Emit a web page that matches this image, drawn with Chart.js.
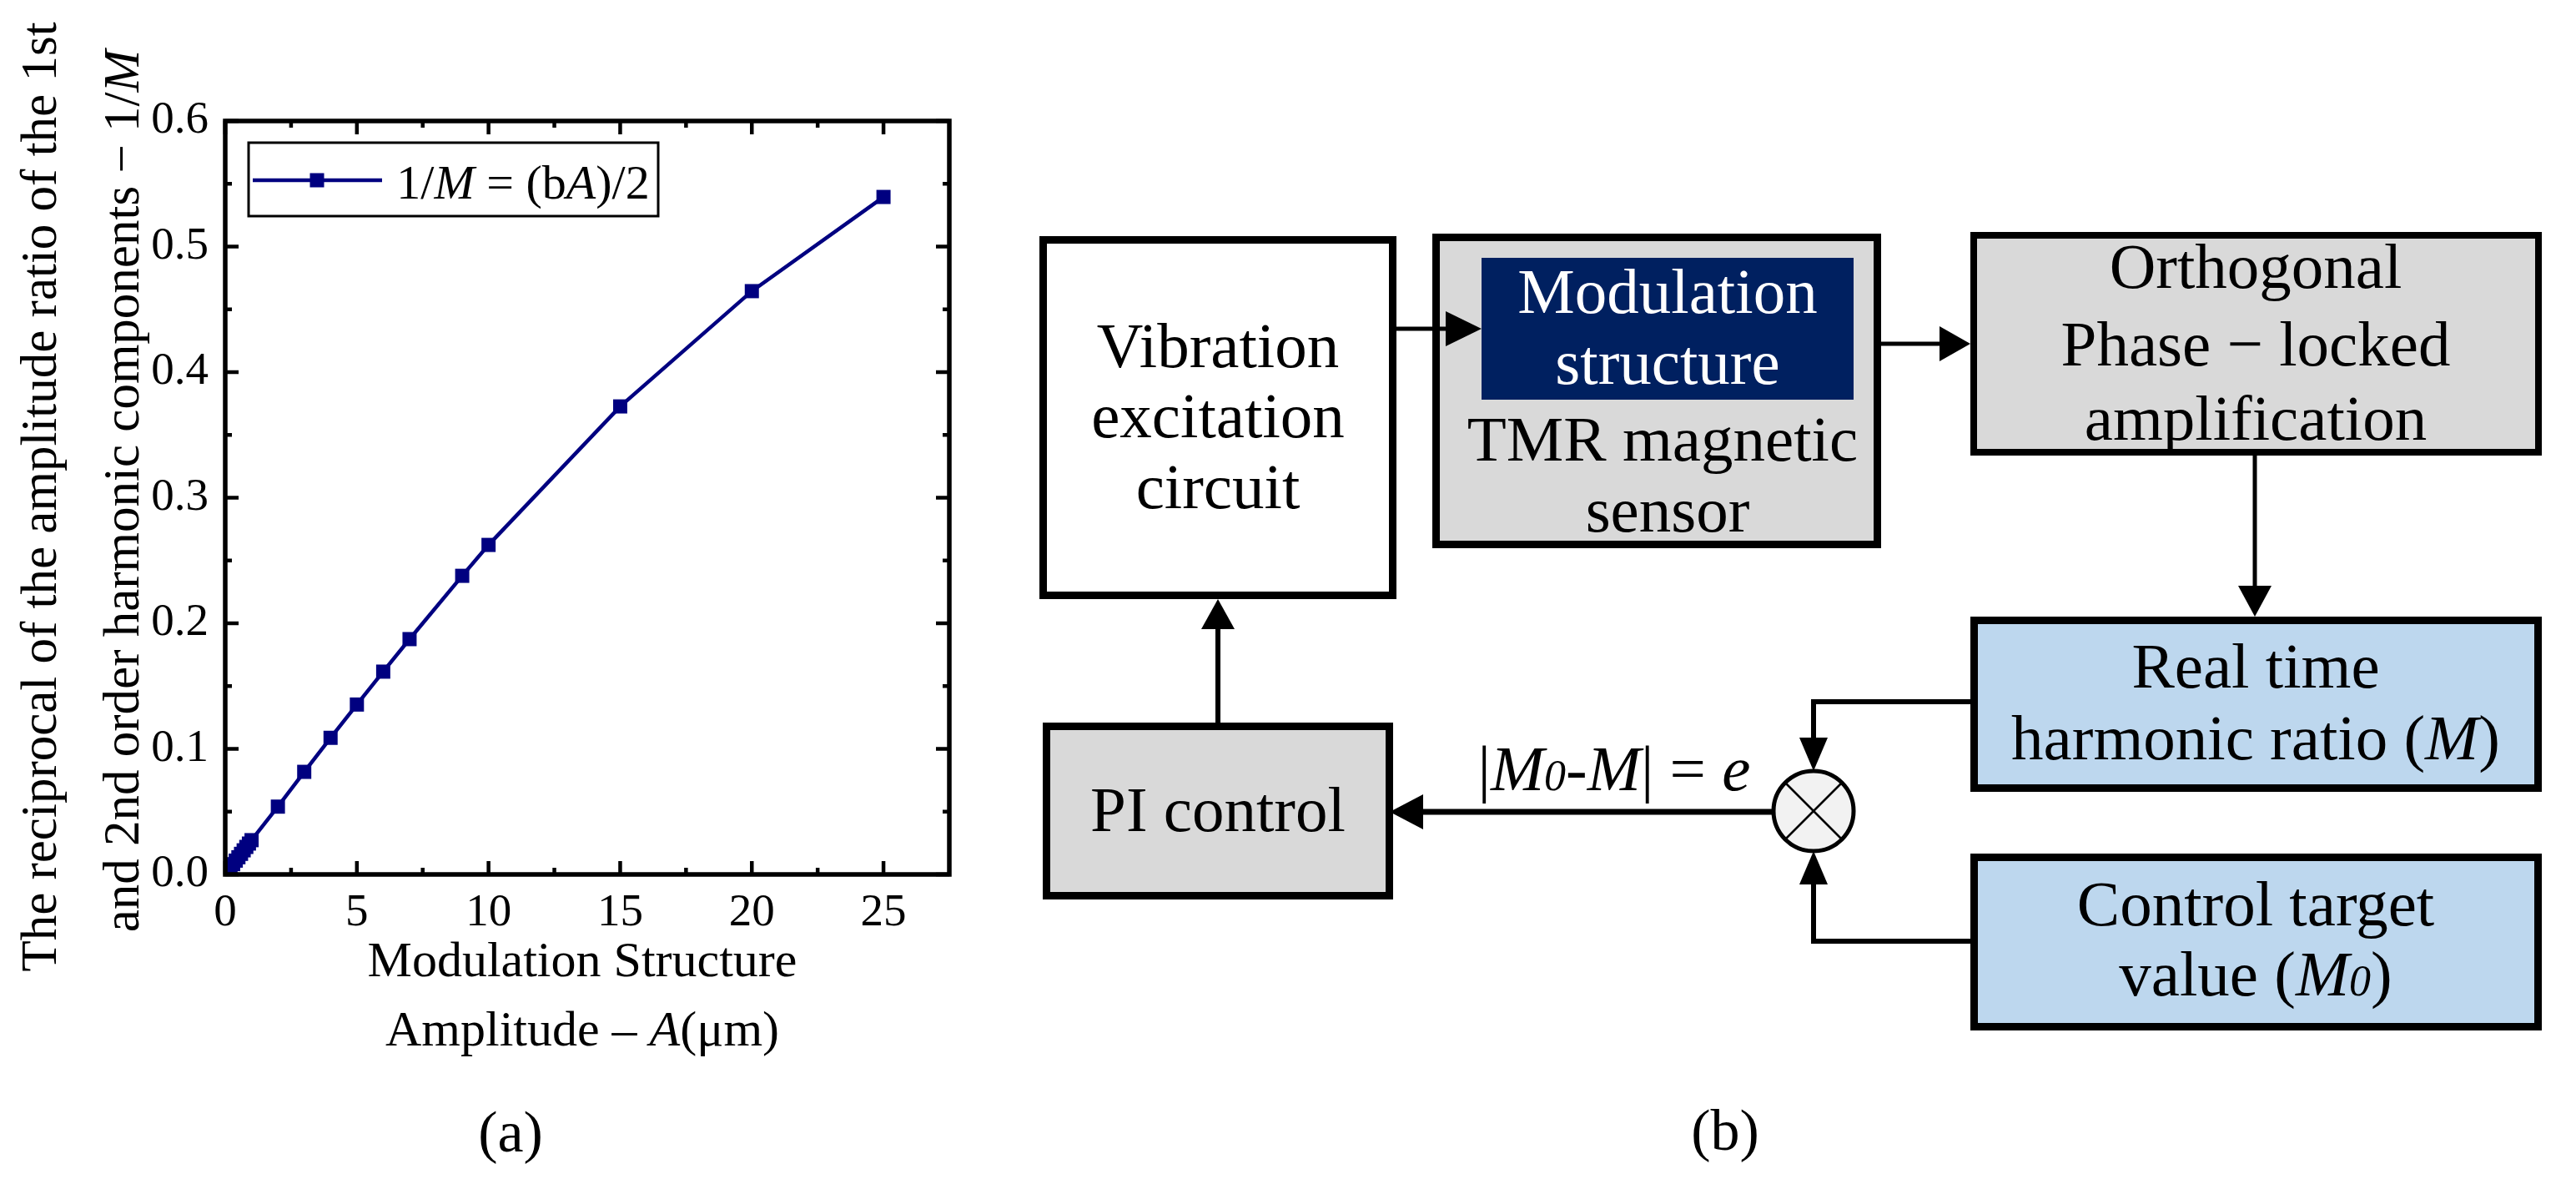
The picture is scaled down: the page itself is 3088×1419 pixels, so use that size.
<!DOCTYPE html>
<html>
<head>
<meta charset="utf-8">
<script src="https://cdn.jsdelivr.net/npm/chart.js@4.4.1/dist/chart.umd.min.js"></script>
<style>
  html, body { margin: 0; padding: 0; background: #fff; }
  body { width: 3088px; height: 1419px; position: relative; overflow: hidden; }
  #chart-wrap { position: absolute; left: 0; top: 0; width: 1200px; height: 1419px; }
  #diagram { position: absolute; left: 0; top: 0; }
  #diagram text { font-family: 'Liberation Serif', 'Times New Roman', serif; }
</style>
</head>
<body>
<div id="chart-wrap"><canvas id="ratio-chart"></canvas></div>

<svg id="diagram" width="3088" height="1419" viewBox="0 0 3088 1419">
  <!-- boxes -->
  <rect x="1250.5" y="287.5" width="419" height="426" fill="#fff" stroke="#000" stroke-width="9"/>
  <rect x="1721.5" y="284.5" width="529" height="368" fill="#d9d9d9" stroke="#000" stroke-width="9"/>
  <rect x="1776" y="309" width="446" height="170" fill="#002060"/>
  <rect x="2366" y="282" width="677" height="260" fill="#d9d9d9" stroke="#000" stroke-width="8"/>
  <rect x="1254.5" y="870.5" width="411" height="203" fill="#d9d9d9" stroke="#000" stroke-width="9"/>
  <rect x="2366.5" y="743.5" width="676" height="201" fill="#bdd7ee" stroke="#000" stroke-width="9"/>
  <rect x="2366.5" y="1027.5" width="676" height="203" fill="#bdd7ee" stroke="#000" stroke-width="9"/>

  <!-- connectors -->
  <g stroke="#000" fill="none">
    <line x1="1674" y1="394" x2="1734" y2="394" stroke-width="5"/>
    <line x1="2255" y1="412" x2="2326" y2="412" stroke-width="5"/>
    <line x1="2703" y1="546" x2="2703" y2="703" stroke-width="5"/>
    <line x1="1460" y1="866" x2="1460" y2="753" stroke-width="6"/>
    <line x1="2126" y1="973" x2="1705" y2="973" stroke-width="7"/>
    <polyline points="2362,841 2174,841 2174,885" stroke-width="6"/>
    <polyline points="2362,1128 2174,1128 2174,1059" stroke-width="6"/>
  </g>
  <g fill="#000">
    <polygon points="1733,373 1776,394 1733,415"/>
    <polygon points="2325,391 2362,412 2325,433"/>
    <polygon points="2683,702 2703,739 2723,702"/>
    <polygon points="1440,754 1460,718 1480,754"/>
    <polygon points="1706,952 1666,973 1706,994"/>
    <polygon points="2157,884 2174,924 2191,884"/>
    <polygon points="2157,1060 2174,1020 2191,1060"/>
  </g>

  <!-- summing junction -->
  <circle cx="2174" cy="972" r="48" fill="#f2f2f2" stroke="#000" stroke-width="5"/>
  <g stroke="#000" stroke-width="2.5">
    <line x1="2140" y1="938" x2="2208" y2="1006"/>
    <line x1="2208" y1="938" x2="2140" y2="1006"/>
  </g>

  <!-- labels -->
  <g font-size="77" text-anchor="middle" fill="#000">
    <text x="1460" y="440">Vibration</text>
    <text x="1460" y="524">excitation</text>
    <text x="1460" y="609">circuit</text>
    <text x="1999" y="375" fill="#fff">Modulation</text>
    <text x="1999" y="460" fill="#fff">structure</text>
    <text x="1993" y="552">TMR magnetic</text>
    <text x="1999" y="637">sensor</text>
    <text x="2704" y="345">Orthogonal</text>
    <text x="2704" y="438">Phase − locked</text>
    <text x="2704" y="527">amplification</text>
    <text x="1460" y="996">PI control</text>
    <text x="2704" y="824">Real time</text>
    <text x="2704" y="910">harmonic ratio (<tspan font-style="italic">M</tspan>)</text>
    <text x="2704" y="1109">Control target</text>
    <text x="2704" y="1193">value (<tspan font-style="italic">M</tspan><tspan font-style="italic" font-size="52">0</tspan>)</text>
    <text x="1935" y="947">|<tspan font-style="italic">M</tspan><tspan font-style="italic" font-size="52">0</tspan>-<tspan font-style="italic">M</tspan>| = <tspan font-style="italic">e</tspan></text>
  </g>
  <g font-size="70" text-anchor="middle" fill="#000">
    <text x="612" y="1380">(a)</text>
    <text x="2068" y="1378">(b)</text>
  </g>
</svg>

<script>
// amplitude of the modulation structure (um) and 1/M
const amplitude = [0, 0.1, 0.2, 0.3, 0.4, 0.5, 0.6, 0.7, 0.8, 0.9, 1, 2, 3, 4, 5, 6, 7, 9, 10, 15, 20, 25];
const reciprocal = [0, 0.0027, 0.0055, 0.0082, 0.011, 0.0137, 0.0164, 0.0192, 0.0219, 0.0246, 0.0273,
    0.054, 0.0817, 0.1088, 0.1353, 0.1615, 0.1874, 0.2378, 0.2624, 0.3727, 0.4645, 0.5395];

const xMajor = [0, 5, 10, 15, 20, 25];
const xMinor = [2.5, 7.5, 12.5, 17.5, 22.5];
const yMajor = [0, 0.1, 0.2, 0.3, 0.4, 0.5, 0.6];
const yMinor = [0.05, 0.15, 0.25, 0.35, 0.45, 0.55];

const FONT = "'Liberation Serif', 'Times New Roman', serif";
const NAVY = '#000080';

// draws a line of text where some pieces are italic
function richText(ctx, parts, x, y, size) {
    let total = 0;
    parts.forEach(p => {
        ctx.font = (p.i ? 'italic ' : '') + size + 'px ' + FONT;
        p.w = ctx.measureText(p.t).width;
        total += p.w;
    });
    let cx = x - total / 2;
    ctx.textAlign = 'left';
    ctx.textBaseline = 'alphabetic';
    parts.forEach(p => {
        ctx.font = (p.i ? 'italic ' : '') + size + 'px ' + FONT;
        ctx.fillText(p.t, cx, y);
        cx += p.w;
    });
}

// Origin-style closed frame with inward ticks on all four sides
const framePlugin = {
    id: 'frame',
    afterDatasetsDraw(chart) {
        const { ctx, chartArea: a, scales: { x, y } } = chart;
        ctx.save();
        ctx.strokeStyle = '#000';
        ctx.lineWidth = 4.5;
        ctx.beginPath();
        const xt = (vals, len) => vals.forEach(v => {
            const px = x.getPixelForValue(v);
            ctx.moveTo(px, a.bottom); ctx.lineTo(px, a.bottom - len);
            ctx.moveTo(px, a.top); ctx.lineTo(px, a.top + len);
        });
        const yt = (vals, len) => vals.forEach(v => {
            const py = y.getPixelForValue(v);
            ctx.moveTo(a.left, py); ctx.lineTo(a.left + len, py);
            ctx.moveTo(a.right, py); ctx.lineTo(a.right - len, py);
        });
        xt(xMajor, 16); xt(xMinor, 8);
        yt(yMajor, 16); yt(yMinor, 8);
        ctx.stroke();
        ctx.lineWidth = 5.5;
        ctx.strokeRect(a.left, a.top, a.right - a.left, a.bottom - a.top);
        ctx.restore();
    },
    afterDraw(chart) {
        const { ctx, chartArea: a } = chart;
        const ds = chart.data.datasets[0];
        ctx.save();
        ctx.fillStyle = '#000';

        // y title, two rotated lines
        const cy = (a.top + a.bottom) / 2;
        ctx.save();
        ctx.translate(67, cy - 1);
        ctx.rotate(-Math.PI / 2);
        richText(ctx, [{ t: 'The reciprocal of the amplitude ratio of the 1st' }], 0, 0, 61);
        ctx.restore();
        ctx.save();
        ctx.translate(166, cy - 8);
        ctx.rotate(-Math.PI / 2);
        richText(ctx, [{ t: 'and 2nd order harmonic components \u2212 1/' }, { t: 'M', i: true }], 0, 0, 61);
        ctx.restore();

        // x title
        const cx = (a.left + a.right) / 2 - 6;
        richText(ctx, [{ t: 'Modulation Structure' }], cx, 1170, 60);
        richText(ctx, [{ t: 'Amplitude \u2013 ' }, { t: 'A', i: true }, { t: '(\u03bcm)' }], cx, 1253, 60);

        // legend box
        ctx.lineWidth = 3;
        ctx.strokeStyle = '#000';
        ctx.strokeRect(298, 171, 491, 88);
        ctx.strokeStyle = ds.borderColor;
        ctx.lineWidth = ds.borderWidth;
        ctx.beginPath();
        ctx.moveTo(303, 216);
        ctx.lineTo(458, 216);
        ctx.stroke();
        ctx.fillStyle = ds.backgroundColor;
        ctx.fillRect(380 - 8.5, 216 - 8.5, 17, 17);
        ctx.fillStyle = '#000';
        richText(ctx, [{ t: '1/' }, { t: 'M', i: true }, { t: ' = (b' }, { t: 'A', i: true }, { t: ')/2' }], 627, 238, 58);
        ctx.restore();
    }
};

new Chart(document.getElementById('ratio-chart').getContext('2d'), {
    type: 'line',
    data: {
        datasets: [{
            label: '1/M = (bA)/2',
            data: amplitude.map((a, i) => ({ x: a, y: reciprocal[i] })),
            borderColor: NAVY,
            backgroundColor: NAVY,
            borderWidth: 4.5,
            pointStyle: 'rect',
            pointRadius: 12,
            pointBorderWidth: 0,
            pointHoverRadius: 12,
            tension: 0,
        }],
    },
    options: {
        responsive: true,
        maintainAspectRatio: false,
        animation: false,
        devicePixelRatio: 1,
        layout: { padding: { top: 145, right: 62, left: 0, bottom: 0 } },
        plugins: {
            legend: { display: false },
            tooltip: { enabled: false },
        },
        scales: {
            x: {
                type: 'linear',
                min: 0,
                max: 27.5,
                afterBuildTicks: (s) => { s.ticks = xMajor.map(v => ({ value: v })); },
                afterFit: (s) => { s.height = 371; },
                grid: { display: false, drawTicks: false },
                border: { display: false },
                ticks: {
                    color: '#000',
                    padding: 14,
                    maxRotation: 0,
                    font: { family: FONT, size: 55 },
                    callback: (v) => String(v),
                },
            },
            y: {
                min: 0,
                max: 0.6,
                afterBuildTicks: (s) => { s.ticks = yMajor.map(v => ({ value: v })); },
                afterFit: (s) => { s.width = 270; },
                grid: { display: false, drawTicks: false },
                border: { display: false },
                ticks: {
                    color: '#000',
                    padding: 20,
                    font: { family: FONT, size: 55 },
                    callback: (v) => Number(v).toFixed(1),
                },
            },
        },
    },
    plugins: [framePlugin],
});
</script>
</body>
</html>
